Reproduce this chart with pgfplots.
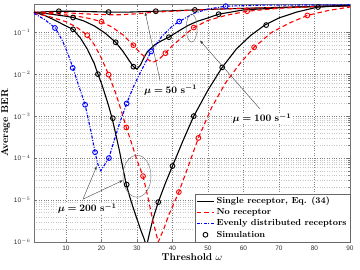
\documentclass[border=0pt]{standalone}
\usepackage{fontspec}
\setsansfont{Liberation Sans}
\usepackage{bm}
\usepackage{pgfplots}
\pgfplotsset{compat=1.18}
\usetikzlibrary{arrows.meta}
\begin{document}
\begin{tikzpicture}
\path[use as bounding box] (-34pt,-28pt) rectangle (326pt,242pt);
\begin{axis}[
  at={(0,0)}, anchor=south west,
  scale only axis, width=316pt, height=238pt,
  xmin=1, xmax=90, ymode=log, ymin=1e-6, ymax=0.47,
  xtick={10,20,...,90},
  ytick={1e-6,1e-5,1e-4,1e-3,1e-2,1e-1},
  yticklabels={10$^{-6}$,10$^{-5}$,10$^{-4}$,10$^{-3}$,10$^{-2}$,10$^{-1}$},
  /pgf/number format/assume math mode=true,
  tick label style={font=\sffamily\fontsize{6.5}{7}\selectfont, text=black!80},
  grid=both,
  major grid style={dotted, black!50},
  minor grid style={dotted, black!22},
  axis line style={black!55},
  major tick length=3pt, minor tick length=1.5pt,
  every tick/.style={black!55},
  xlabel={\textbf{Threshold} $\omega$},
  ylabel={\textbf{Average BER}},
  label style={font=\fontsize{10}{12}\selectfont},
  xlabel style={yshift=3pt},
  ylabel style={yshift=-3pt},
  legend style={at={(1,0)}, anchor=south east, draw=black!60, fill=white,
    font=\fontsize{8.8}{10}\selectfont\bfseries, inner sep=1.2pt, row sep=-0.5pt},
  legend cell align=left,
]
\addlegendimage{black, line width=1.1pt}
\addlegendimage{red, line width=1.1pt, dash pattern=on 4.5pt off 3pt}
\addlegendimage{blue, line width=1.1pt, dash pattern=on 3pt off 1.5pt on 1pt off 1.5pt}
\addlegendimage{only marks, mark=o, black, mark size=2.4pt, line width=0.9pt}
\legend{{Single receptor, Eq. (34)}, {No receptor}, {Evenly distributed receptors}, {Simulation}}

% mu = 50
\addplot[forget plot, black, line width=1.1pt] coordinates {
(1,0.295)(5,0.31)(8,0.316)(12,0.316)(16,0.31)(22,0.302)(28,0.302)(35,0.316)(40,0.324)(46,0.339)(55,0.36)(65,0.38)(75,0.4)(90,0.42)};
\addplot[forget plot, red, line width=1.1pt, dash pattern=on 4.5pt off 3pt] coordinates {
(1,0.3)(5,0.3)(10,0.29)(15,0.275)(20,0.262)(25,0.26)(30,0.275)(35,0.3)(40,0.316)(50,0.35)(60,0.37)(75,0.4)(90,0.42)};
\addplot[forget plot, only marks, mark=o, black, mark size=2.4pt, line width=0.9pt] coordinates {
(8,0.316)(22,0.302)(35.3,0.316)(46.3,0.339)};

% mu = 100
\addplot[forget plot, black, line width=1.1pt] coordinates {
(1,0.295)(5,0.275)(10,0.24)(12,0.224)(15,0.186)(18,0.141)(21,0.0955)(24,0.0575)(26,0.0355)(28,0.02)(29,0.0151)(30,0.0132)(31,0.0166)(32,0.0251)(33,0.0347)(35,0.0501)(37,0.0631)(39,0.0759)(42,0.11)(44.4,0.145)(47,0.182)(50,0.219)(53,0.269)(60,0.339)(70,0.38)(81,0.417)(90,0.437)};
\addplot[forget plot, red, line width=1.1pt, dash pattern=on 4.5pt off 3pt] coordinates {
(1,0.295)(8,0.269)(14,0.234)(17,0.209)(20,0.178)(23,0.132)(26,0.0871)(29,0.049)(31,0.0316)(33,0.0224)(34.5,0.0191)(36,0.0219)(38,0.0316)(40,0.0479)(43,0.0794)(46,0.129)(50,0.191)(55,0.251)(61,0.316)(70,0.372)(80,0.407)(90,0.427)};
\addplot[forget plot, only marks, mark=o, black, mark size=2.4pt, line width=0.9pt] coordinates {
(12,0.224)(24,0.0575)(29,0.0151)(39,0.0759)(53,0.269)};
\addplot[forget plot, only marks, mark=o, red, mark size=2.4pt, line width=0.9pt] coordinates {
(20,0.178)(29,0.049)(38,0.0316)(46,0.129)(61,0.316)};

% mu = 200
\addplot[forget plot, black, line width=1.1pt] coordinates {
(1,0.302)(4,0.251)(7,0.191)(10,0.141)(12,0.117)(14,0.0741)(16,0.0398)(18,0.0178)(19,0.01)(20,0.00603)(21,0.00331)(22,0.00178)(23,8.91e-4)(24,3.80e-4)(25,1.58e-4)(26,6.03e-5)(27,2.34e-5)(28,1.17e-5)(29,6.31e-6)(30,3.55e-6)(31,2.0e-6)(32,1.2e-6)(32.7,7.9e-7)(33.5,1.58e-6)(34.5,3.55e-6)(36,8.91e-6)(38,2.51e-5)(40,6.46e-5)(43,2.63e-4)(46,1e-3)(50,4.17e-3)(54,0.0145)(58,0.0398)(62,0.0832)(66,0.148)(70,0.219)(75,0.302)(81,0.398)(90,0.437)};
\addplot[forget plot, red, line width=1.1pt, dash pattern=on 4.5pt off 3pt] coordinates {
(1,0.282)(5,0.24)(10,0.178)(13,0.132)(16,0.0851)(18,0.0501)(20,0.024)(22,0.00977)(24,0.00355)(25.5,0.00141)(27,5.37e-4)(28.5,2.24e-4)(30,8.91e-5)(31.7,3.72e-5)(33,1.26e-5)(34.5,3.16e-6)(36,1e-6)(37.5,2e-6)(39,4.47e-6)(41.8,1.55e-5)(44,5.01e-5)(47.3,3.02e-4)(51,0.00158)(55,0.00631)(59,0.0178)(63,0.0437)(68,0.1)(73,0.166)(78,0.251)(84,0.331)(90,0.398)};
\addplot[forget plot, blue, line width=1.1pt, dash pattern=on 3pt off 1.5pt on 1pt off 1.5pt] coordinates {
(1,0.282)(4,0.2)(7,0.126)(9,0.0631)(10.5,0.0316)(12,0.0138)(13.5,0.00562)(15.4,0.00186)(17,4.47e-4)(18.2,1.38e-4)(19,7.08e-5)(19.8,5.01e-5)(20.6,6.31e-5)(21.3,7.94e-5)(22.1,1e-4)(23.5,2.51e-4)(25,6.31e-4)(27.1,0.002)(29,0.00501)(31,0.0112)(34,0.0347)(37,0.0794)(40,0.141)(42,0.182)(46,0.282)(50,0.355)(55,0.417)(65,0.44)(90,0.45)};
\addplot[forget plot, only marks, mark=o, black, mark size=2.4pt, line width=0.9pt] coordinates {
(12,0.117)(19,0.01)(23.2,8.91e-4)(27.1,2.34e-5)(36,8.91e-6)(40,6.46e-5)(46,1e-3)(54,0.0145)(66.4,0.148)(81,0.398)};
\addplot[forget plot, only marks, mark=o, red, mark size=2.4pt, line width=0.9pt] coordinates {
(16,0.0851)(22,0.00977)(27,5.37e-4)(31.7,3.72e-5)(41.8,1.55e-5)(47.3,3.02e-4)(63,0.0437)(78,0.251)};
\addplot[forget plot, only marks, mark=o, blue, mark size=2.4pt, line width=0.9pt] coordinates {
(6.9,0.126)(11.9,0.0141)(15.4,0.00186)(18.2,1.38e-4)(22.1,1e-4)(27.1,0.002)(34,0.0347)(41.9,0.18)(55,0.417)};

% annotations
\draw[black!75, line width=0.4pt, -{Latex[length=3.5pt,width=2.5pt]}] (axis cs:36.5,0.0071) -- (axis cs:32.3,0.30);
\node[fill=white, inner sep=0.5pt, font=\fontsize{10}{12}\selectfont] at (axis cs:39.5,0.0041) {$\bm{\mu = 50}$ \textbf{s}$^{\bm{-1}}$};
\draw[black!60, line width=0.4pt] (axis cs:45.4,0.125) ellipse [x radius=5.5pt, y radius=14pt];
\draw[black!75, line width=0.4pt, -{Latex[length=3.5pt,width=2.5pt]}] (axis cs:64.6,0.0015) -- (axis cs:47.7,0.064);
\node[fill=white, inner sep=0.5pt, font=\fontsize{10}{12}\selectfont] at (axis cs:65.2,8.7e-4) {$\bm{\mu = 100}$ \textbf{s}$^{\bm{-1}}$};
\draw[black!60, line width=0.4pt] (axis cs:30,3.7e-5) ellipse [x radius=14pt, y radius=21pt];
\draw[black!75, line width=0.4pt, -{Latex[length=3.5pt,width=2.5pt]}] (axis cs:14.8,1.05e-5) -- (axis cs:18.7,6.5e-5);
\draw[black!75, line width=0.4pt, -{Latex[length=3.5pt,width=2.5pt]}] (axis cs:14.8,1.05e-5) -- (axis cs:26.1,2.96e-5);
\node[fill=white, inner sep=0.5pt, font=\fontsize{10}{12}\selectfont] at (axis cs:16,6.3e-6) {$\bm{\mu = 200}$ \textbf{s}$^{\bm{-1}}$};
\end{axis}
\end{tikzpicture}
\end{document}
